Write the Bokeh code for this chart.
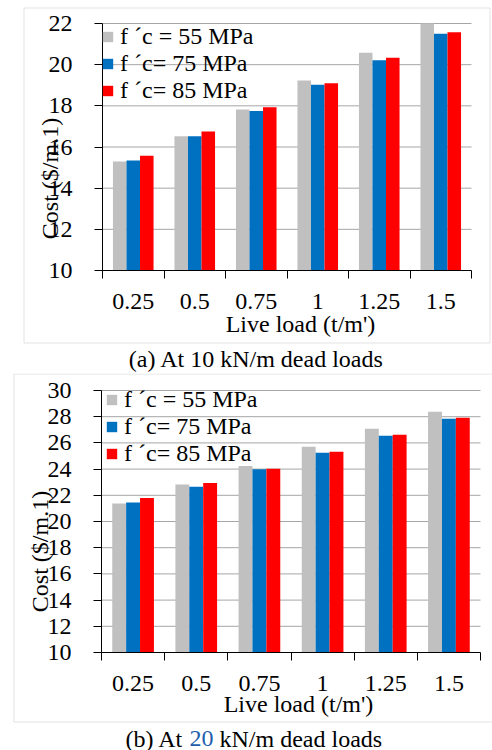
import math
from bokeh.plotting import figure
from bokeh.models import (Range1d, FixedTicker, Legend, LegendItem, Label, LinearAxis,
                          BoxAnnotation, ColumnDataSource)
from bokeh.layouts import column
from bokeh.embed import file_html
from bokeh.resources import INLINE

# ---------------- data ----------------
live_loads = ["0.25", "0.5", "0.75", "1", "1.25", "1.5"]
series_names = ["f \u00b4c = 55 MPa", "f \u00b4c= 75 MPa", "f \u00b4c= 85 MPa"]
colors = ["#c0c0c0", "#0070c0", "#ff0000"]

# (a) 10 kN/m dead load
cost_10_fc55 = [15.30, 16.52, 17.82, 19.23, 20.58, 22.00]
cost_10_fc75 = [15.35, 16.52, 17.75, 19.03, 20.22, 21.50]
cost_10_fc85 = [15.58, 16.75, 17.93, 19.10, 20.33, 21.57]

# (b) 20 kN/m dead load
cost_20_fc55 = [21.38, 22.83, 24.23, 25.70, 27.08, 28.37]
cost_20_fc75 = [21.45, 22.66, 23.98, 25.25, 26.54, 27.84]
cost_20_fc85 = [21.80, 22.94, 24.03, 25.32, 26.62, 27.92]

y_ticks_a = [10, 12, 14, 16, 18, 20, 22]
y_ticks_b = [10, 12, 14, 16, 18, 20, 22, 24, 26, 28, 30]

FONT = "Liberation Serif"
FS = "24px"
W = 492


def make_panel(series, yticks, height, area, legend_loc, ylab_pos, xlab_pos):
    """area = (left, right, top, bottom) pixel box of the plotting region
    inside this canvas; the frame covers the whole canvas."""
    l, r, t, b = area
    n = len(live_loads)
    xppu = (r - l) / n
    yppu = (b - t) / (yticks[-1] - yticks[0])
    xr = Range1d(-l / xppu, n + (W - r) / xppu)
    yr = Range1d(yticks[0] - (height - b) / yppu, yticks[-1] + t / yppu)
    p = figure(width=W, height=height, title=None, x_range=xr, y_range=yr,
               x_axis_type=None, y_axis_type=None,
               output_backend="svg", toolbar_location=None,
               min_border=0, min_border_left=0, min_border_right=0,
               min_border_top=0, min_border_bottom=0)
    p.outline_line_color = None
    p.background_fill_color = "white"
    p.border_fill_color = "white"
    p.xgrid.visible = False
    p.ygrid.visible = False

    # horizontal grid lines
    gy = yticks[1:]
    p.segment(x0=[0] * len(gy), x1=[n] * len(gy), y0=gy, y1=gy,
              line_color="#a6a6a6", line_width=1)

    offsets = [-0.22, 0.0, 0.22]
    items = []
    for vals, name, col, off in zip(series, series_names, colors, offsets):
        src = ColumnDataSource(dict(x=[i + 0.5 + off for i in range(n)], top=vals))
        rr = p.vbar(x="x", top="top", bottom=yticks[0], width=0.22, source=src,
                    fill_color=col, line_color=None)
        items.append(LegendItem(label=name, renderers=[rr]))

    centres = [i + 0.5 for i in range(n)]
    xaxis = LinearAxis(fixed_location=yticks[0], bounds=(0, n),
                       ticker=FixedTicker(ticks=centres, minor_ticks=list(range(n + 1))))
    xaxis.major_label_overrides = {c: lab for c, lab in zip(centres, live_loads)}
    xaxis.major_tick_line_color = None
    xaxis.major_tick_out = 0
    xaxis.major_tick_in = 0
    xaxis.minor_tick_line_color = "black"
    xaxis.minor_tick_out = 8
    xaxis.minor_tick_in = 0
    xaxis.major_label_standoff = 15

    yaxis = LinearAxis(fixed_location=0, bounds=(yticks[0], yticks[-1]),
                       ticker=FixedTicker(ticks=yticks, minor_ticks=[]))
    yaxis.major_tick_out = 8
    yaxis.major_tick_in = 0
    yaxis.major_tick_line_color = "black"
    yaxis.minor_tick_line_color = None
    yaxis.major_label_standoff = 22

    for ax in (xaxis, yaxis):
        ax.axis_line_color = "black"
        ax.axis_line_width = 1
        ax.major_label_text_font = FONT
        ax.major_label_text_font_size = FS
        ax.major_label_text_color = "black"
    p.add_layout(xaxis, "below")
    p.add_layout(yaxis, "left")

    legend = Legend(items=items, location=legend_loc, glyph_width=13, glyph_height=13,
                    label_text_font=FONT, label_text_font_size=FS,
                    label_text_color="black", label_standoff=6,
                    background_fill_alpha=0, border_line_alpha=0,
                    spacing=-1, padding=0, margin=0)
    p.add_layout(legend)

    p.add_layout(Label(x=ylab_pos[0], y=height - ylab_pos[1], x_units="screen",
                       y_units="screen", text="Cost ($/m.1)", angle=math.pi / 2,
                       text_align="center", text_baseline="middle", text_font=FONT,
                       text_font_size=FS, text_color="black"))
    p.add_layout(Label(x=xlab_pos[0], y=height - xlab_pos[1], x_units="screen",
                       y_units="screen", text="Live load (t/m')", text_align="center",
                       text_baseline="middle", text_font=FONT, text_font_size=FS,
                       text_color="black"))
    return p


HA, HB = 373, 377

pa = make_panel([cost_10_fc55, cost_10_fc75, cost_10_fc85], y_ticks_a, HA,
                (102, 471, 23, 270), (101, 269), (49, 178), (300, 323))
pa.add_layout(BoxAnnotation(left=23.5, right=489.5, top=7.5, bottom=342.5,
                            left_units="canvas", right_units="canvas",
                            top_units="canvas", bottom_units="canvas",
                            fill_alpha=0, line_color="#a0a0a0", line_width=1))
pa.add_layout(Label(x=256, y=HA - 358, x_units="screen", y_units="screen",
                    text="(a) At 10 kN/m dead loads", text_align="center",
                    text_baseline="middle", text_font=FONT, text_font_size=FS,
                    text_color="black"))

# panel (b): canvas starts at page y = 373
pb = make_panel([cost_20_fc55, cost_20_fc75, cost_20_fc85], y_ticks_b, HB,
                (101, 480, 390 - 373, 652 - 373), (105, 283),
                (39, 551 - 373), (298, 703 - 373))
pb.add_layout(BoxAnnotation(left=13.5, right=520, top=0.5, bottom=348.5,
                            left_units="canvas", right_units="canvas",
                            top_units="canvas", bottom_units="canvas",
                            fill_alpha=0, line_color="#a0a0a0", line_width=1))
cap_y = HB - (738 - 373)
pb.add_layout(Label(x=183, y=cap_y, x_units="screen", y_units="screen",
                    text="(b) At", text_align="right", text_baseline="middle",
                    text_font=FONT, text_font_size=FS, text_color="black"))
pb.add_layout(Label(x=201, y=cap_y, x_units="screen", y_units="screen",
                    text="20", text_align="center", text_baseline="middle",
                    text_font=FONT, text_font_size=FS, text_color="#1f5fae"))
pb.add_layout(Label(x=219, y=cap_y, x_units="screen", y_units="screen",
                    text="kN/m dead loads", text_align="left", text_baseline="middle",
                    text_font=FONT, text_font_size=FS, text_color="black"))

layout = column(pa, pb, spacing=0)
open("out.html", "w").write(file_html(layout, INLINE))
